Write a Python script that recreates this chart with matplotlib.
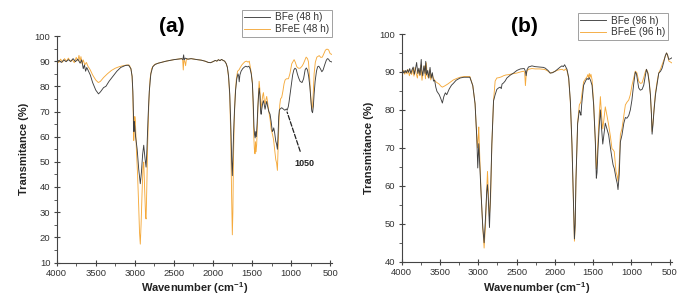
import matplotlib
matplotlib.use("Agg")
import matplotlib.pyplot as plt
from matplotlib.ticker import MultipleLocator

plt.rcParams['font.family'] = ['Liberation Sans', 'DejaVu Sans']
plt.rcParams['mathtext.fontset'] = 'custom'
plt.rcParams['mathtext.rm'] = 'Liberation Sans'
plt.rcParams['mathtext.bf'] = 'Liberation Sans:bold'
plt.rcParams['mathtext.it'] = 'Liberation Sans:italic'

# ---------------- Panel (a) data ----------------
a_bfe_wn = [4000, 3970, 3940, 3910, 3880, 3850, 3820, 3790, 3760, 3730, 3700, 3680, 3660, 3645, 3630, 3615, 3600,
            3570, 3540, 3500, 3465, 3440, 3400, 3370, 3330, 3280, 3230, 3180, 3120, 3080, 3050, 3035, 3025, 3018,
            3012, 3008, 3000, 2990, 2970, 2950, 2930, 2915, 2900, 2886, 2872, 2856, 2845, 2830, 2815, 2795, 2770,
            2740, 2700, 2650, 2600, 2550, 2500, 2450, 2400, 2385, 2375, 2368, 2355, 2320, 2280, 2240, 2200, 2150,
            2100, 2060, 2030, 2000, 1970, 1950, 1930, 1910, 1890, 1870, 1850, 1830, 1815, 1800, 1785, 1770, 1760,
            1752, 1745, 1735, 1725, 1710, 1695, 1680, 1670, 1664, 1655, 1640, 1620, 1600, 1580, 1560, 1540, 1525,
            1510, 1495, 1485, 1475, 1468, 1460, 1453, 1445, 1435, 1425, 1415, 1408, 1398, 1390, 1383, 1375, 1362,
            1354, 1345, 1333, 1320, 1312, 1300, 1285, 1269, 1255, 1240, 1230, 1222, 1210, 1196, 1185, 1175, 1165,
            1158, 1150, 1140, 1120, 1100, 1080, 1060, 1050, 1035, 1025, 1012, 995, 980, 965, 950, 935, 920, 905,
            885, 860, 840, 820, 805, 790, 775, 760, 745, 735, 725, 715, 705, 692, 675, 660, 645, 625, 606, 590,
            570, 550, 535, 520, 505, 490, 480]
a_bfe_t = [89.8, 90.3, 89.5, 90.5, 89.8, 90.6, 89.9, 91.0, 89.8, 90.8, 89.2, 90.5, 87.0, 88.5, 86.0, 87.5, 86.5,
           84.5, 81.5, 78.5, 77.0, 77.8, 79.5, 80.0, 82.0, 84.0, 86.0, 87.5, 88.3, 88.4, 87.0, 84.0, 78.0, 70.0,
           62.0, 66.0, 64.0, 60.0, 55.0, 47.0, 41.3, 46.0, 53.0, 56.6, 52.0, 47.9, 55.0, 68.0, 78.0, 85.0, 87.8,
           88.7, 89.2, 89.6, 90.0, 90.3, 90.6, 90.8, 91.0, 90.6, 92.5, 90.5, 91.2, 90.8, 91.0, 90.8, 90.6, 90.4,
           90.0, 89.5, 89.4, 89.8, 90.3, 90.0, 90.6, 90.2, 90.7, 90.3, 90.0, 89.0, 87.5, 84.0, 77.0, 63.0, 50.0,
           44.5, 52.0, 62.0, 70.0, 78.5, 83.0, 85.0, 84.0, 81.8, 84.5, 86.0, 87.0, 87.6, 88.0, 87.7, 88.0, 87.0,
           85.0, 81.0, 74.0, 64.0, 61.0, 59.5, 62.0, 60.0, 65.0, 72.0, 77.0, 79.3, 76.0, 70.0, 68.9, 71.0, 73.5,
           74.3, 73.0, 70.9, 73.0, 74.0, 72.0, 70.0, 68.9, 66.0, 62.0, 62.5, 63.5, 61.5, 58.2, 57.0, 55.0, 62.0,
           68.0, 70.5, 71.0, 71.5, 71.0, 70.5, 71.0, 70.5, 72.0, 74.0, 77.0, 81.0, 84.5, 86.5, 87.2, 86.8, 85.0,
           83.5, 82.0, 81.5, 83.0, 86.6, 87.3, 86.5, 84.0, 80.0, 74.0, 70.2, 69.5, 72.0, 77.0, 82.0, 86.0, 87.8,
           88.0, 87.0, 85.8, 86.5, 88.5, 90.3, 91.0, 90.8, 90.0, 89.8, 89.7]

a_bfee_wn = [4000, 3975, 3950, 3925, 3900, 3875, 3850, 3825, 3800, 3775, 3750, 3730, 3715, 3700, 3690, 3675, 3660,
             3640, 3620, 3600, 3570, 3540, 3500, 3467, 3440, 3400, 3350, 3300, 3250, 3200, 3150, 3100, 3070, 3050,
             3035, 3025, 3018, 3014, 3008, 3000, 2993, 2980, 2965, 2950, 2940, 2930, 2920, 2905, 2895, 2886, 2875,
             2862, 2856, 2848, 2835, 2820, 2805, 2785, 2760, 2740, 2700, 2650, 2600, 2550, 2500, 2450, 2400, 2388,
             2380, 2372, 2360, 2350, 2340, 2320, 2280, 2240, 2200, 2150, 2100, 2060, 2030, 2000, 1970, 1950, 1930,
             1910, 1890, 1870, 1850, 1830, 1815, 1800, 1785, 1772, 1762, 1752, 1745, 1738, 1728, 1715, 1700, 1685,
             1665, 1650, 1630, 1610, 1590, 1570, 1550, 1535, 1524, 1510, 1495, 1485, 1477, 1470, 1462, 1455, 1448,
             1440, 1430, 1420, 1409, 1400, 1390, 1384, 1375, 1362, 1354, 1345, 1333, 1320, 1312, 1300, 1285, 1269,
             1255, 1239, 1225, 1210, 1196, 1185, 1175, 1165, 1155, 1145, 1135, 1120, 1105, 1090, 1077, 1060, 1034,
             1015, 991, 961, 945, 927, 905, 884, 860, 842, 807, 790, 777, 760, 745, 735, 725, 715, 705, 690, 670,
             640, 620, 600, 580, 560, 540, 520, 500, 480]
a_bfee_t = [90.0, 89.5, 90.8, 89.6, 91.0, 90.0, 91.2, 89.8, 90.6, 89.4, 91.5, 90.2, 92.3, 90.0, 91.8, 89.0, 90.5,
            88.5, 89.5, 88.0, 86.5, 84.5, 82.5, 81.5, 82.0, 83.5, 85.0, 86.3, 87.2, 87.8, 88.2, 88.5, 88.4, 87.0,
            84.0, 76.0, 66.0, 58.5, 62.0, 68.0, 66.0, 55.0, 45.0, 32.0, 22.0, 17.3, 25.0, 40.0, 48.0, 49.9, 40.0,
            28.0, 27.3, 38.0, 58.0, 74.0, 83.0, 87.0, 88.3, 88.8, 89.2, 89.6, 90.0, 90.3, 90.6, 90.8, 91.0, 90.8,
            86.5, 90.5, 89.8, 88.2, 90.8, 90.8, 91.0, 90.8, 90.6, 90.4, 90.0, 89.5, 89.4, 89.8, 90.3, 90.0, 90.6,
            90.2, 90.7, 90.3, 90.0, 89.0, 87.5, 83.5, 76.0, 60.0, 38.0, 21.0, 30.0, 50.0, 66.0, 77.0, 83.0, 86.0,
            86.6, 87.5, 88.5, 89.2, 89.8, 90.0, 89.6, 90.0, 88.0, 85.5, 81.5, 72.0, 60.0, 55.0, 53.2, 58.0, 54.0,
            57.0, 66.0, 75.0, 82.0, 79.0, 73.0, 70.9, 73.5, 76.5, 77.5, 75.0, 72.9, 75.0, 76.0, 73.5, 70.0, 67.0,
            63.0, 61.0, 59.0, 55.0, 50.9, 49.5, 46.6, 56.0, 66.0, 72.5, 75.0, 75.6, 78.0, 81.0, 82.5, 83.0, 83.0,
            85.0, 89.0, 90.6, 89.5, 87.8, 87.2, 87.2, 88.0, 89.0, 91.6, 91.0, 89.7, 82.0, 74.0, 70.9, 72.0, 78.0,
            85.0, 89.5, 91.6, 92.2, 91.5, 91.6, 93.0, 94.4, 94.8, 94.5, 93.0, 92.7]

# ---------------- Panel (b) data ----------------
b_bfe_wn = [4000, 3985, 3970, 3955, 3940, 3925, 3910, 3895, 3880, 3865, 3850, 3835, 3820, 3805, 3790, 3775, 3760,
            3745, 3738, 3725, 3710, 3695, 3686, 3675, 3660, 3645, 3630, 3615, 3600, 3585, 3570, 3555, 3540, 3510,
            3490, 3469, 3450, 3430, 3412, 3380, 3350, 3325, 3290, 3238, 3190, 3150, 3110, 3072, 3042, 3020, 3007,
            2994, 2980, 2963, 2941, 2924, 2905, 2890, 2880, 2868, 2854, 2840, 2823, 2801, 2780, 2758, 2735, 2714,
            2700, 2690, 2671, 2650, 2627, 2580, 2540, 2496, 2450, 2400, 2385, 2376, 2365, 2345, 2300, 2257, 2200,
            2150, 2126, 2090, 2061, 2030, 1996, 1960, 1930, 1908, 1890, 1873, 1855, 1842, 1820, 1798, 1777, 1755,
            1745, 1735, 1725, 1703, 1681, 1665, 1660, 1650, 1625, 1600, 1581, 1565, 1551, 1535, 1515, 1494, 1472,
            1459, 1450, 1437, 1420, 1406, 1390, 1375, 1360, 1342, 1320, 1298, 1275, 1255, 1240, 1225, 1202, 1185,
            1176, 1160, 1145, 1124, 1100, 1080, 1060, 1036, 1015, 995, 970, 950, 935, 906, 885, 862, 840, 820, 805,
            785, 768, 753, 740, 731, 720, 705, 687, 665, 644, 620, 600, 580, 560, 543, 530, 513, 490, 475]
b_bfe_t = [90.0, 90.3, 89.7, 90.4, 89.8, 90.6, 89.9, 90.9, 89.6, 90.6, 91.3, 89.4, 90.8, 92.5, 89.6, 91.0, 89.2,
           93.3, 90.5, 89.0, 91.6, 89.6, 92.8, 89.2, 90.4, 88.4, 91.2, 88.4, 89.8, 87.6, 87.8, 86.0, 84.9, 84.0,
           83.0, 81.8, 83.5, 84.5, 84.0, 85.5, 86.5, 87.0, 87.8, 88.4, 88.6, 88.6, 88.6, 86.4, 81.6, 72.8, 64.7,
           71.1, 65.0, 57.7, 48.9, 45.0, 52.0, 58.5, 60.3, 56.0, 49.0, 58.0, 71.0, 82.4, 84.0, 85.4, 85.8, 86.0,
           85.6, 86.8, 87.1, 87.6, 88.4, 89.2, 89.7, 90.4, 90.8, 90.9, 90.2, 89.0, 90.5, 91.3, 91.6, 91.4, 91.3,
           91.2, 91.0, 90.4, 89.7, 89.8, 90.2, 90.8, 91.3, 91.6, 91.4, 91.9, 91.2, 90.7, 88.5, 82.3, 70.9, 53.3,
           46.0, 50.0, 61.5, 76.4, 79.9, 79.0, 78.6, 81.5, 86.5, 87.6, 88.3, 88.0, 88.5, 87.8, 86.5, 81.3, 71.6,
           62.0, 63.5, 69.8, 76.0, 80.0, 75.0, 71.0, 73.5, 76.5, 75.0, 73.4, 70.0, 67.3, 65.5, 64.6, 62.0, 60.5,
           59.0, 63.0, 71.6, 73.4, 76.5, 78.0, 77.8, 78.5, 80.0, 82.5, 87.0, 90.0, 89.5, 85.8, 85.2, 85.4, 86.5,
           89.0, 90.7, 89.5, 87.0, 84.0, 79.0, 73.6, 76.0, 80.0, 84.0, 87.0, 89.7, 90.2, 91.0, 92.5, 94.2, 95.0,
           94.5, 93.3, 93.5, 93.7]

b_bfee_wn = [4000, 3990, 3975, 3960, 3945, 3930, 3915, 3900, 3885, 3870, 3855, 3840, 3825, 3810, 3795, 3780, 3765,
             3750, 3735, 3720, 3705, 3690, 3680, 3665, 3650, 3635, 3620, 3605, 3590, 3575, 3560, 3540, 3510, 3490,
             3469, 3440, 3400, 3360, 3325, 3280, 3238, 3180, 3140, 3110, 3072, 3042, 3020, 3010, 3000, 2994, 2985,
             2963, 2941, 2924, 2905, 2890, 2880, 2868, 2856, 2840, 2823, 2801, 2780, 2758, 2730, 2700, 2671, 2640,
             2600, 2560, 2500, 2450, 2410, 2395, 2385, 2376, 2365, 2345, 2300, 2257, 2200, 2150, 2126, 2090, 2061,
             2030, 1996, 1960, 1930, 1908, 1880, 1860, 1842, 1820, 1798, 1777, 1755, 1745, 1735, 1725, 1703, 1681,
             1660, 1645, 1625, 1600, 1581, 1570, 1560, 1551, 1540, 1530, 1515, 1494, 1472, 1459, 1450, 1437, 1420,
             1406, 1390, 1375, 1360, 1342, 1320, 1298, 1275, 1255, 1240, 1225, 1202, 1185, 1176, 1160, 1145, 1124,
             1100, 1080, 1060, 1036, 1015, 993, 970, 950, 930, 906, 885, 862, 840, 820, 805, 785, 768, 753, 740,
             731, 720, 705, 687, 665, 644, 620, 600, 580, 560, 543, 530, 513, 490, 475]
b_bfee_t = [90.0, 89.7, 90.4, 89.4, 90.3, 89.5, 90.6, 89.0, 90.2, 89.3, 90.9, 88.9, 91.2, 89.5, 88.4, 90.8, 89.0,
            91.8, 87.8, 90.4, 91.6, 88.2, 92.4, 89.0, 88.4, 90.6, 87.9, 89.4, 88.5, 88.0, 87.5, 87.2, 86.8, 86.3,
            86.0, 86.3, 86.8, 87.4, 87.9, 88.3, 88.6, 88.8, 88.8, 88.8, 86.4, 81.6, 72.8, 70.0, 73.0, 75.5, 70.0,
            57.7, 48.9, 43.6, 50.0, 59.0, 63.8, 58.0, 52.0, 56.0, 71.0, 82.4, 87.6, 88.4, 88.5, 88.7, 89.0, 89.2,
            89.3, 89.5, 89.7, 90.0, 90.2, 90.0, 86.4, 88.8, 90.2, 90.7, 90.9, 90.8, 90.8, 90.7, 90.6, 90.2, 89.7,
            89.9, 90.2, 90.5, 90.6, 90.7, 90.4, 90.8, 90.3, 88.3, 82.0, 70.5, 53.0, 45.4, 49.5, 61.5, 76.6, 81.3,
            82.1, 84.5, 87.4, 88.2, 88.7, 89.3, 88.4, 89.6, 88.6, 89.4, 88.0, 81.8, 72.0, 64.5, 66.0, 72.0, 79.0,
            83.5, 78.5, 75.0, 77.5, 80.8, 78.5, 76.0, 73.0, 69.8, 69.5, 69.0, 63.7, 62.5, 61.2, 66.0, 73.5, 75.1,
            78.5, 81.3, 82.0, 82.6, 84.0, 86.5, 88.5, 90.2, 89.8, 87.6, 87.0, 87.1, 88.5, 90.0, 90.7, 89.8, 87.5,
            84.0, 79.0, 74.3, 76.5, 80.5, 84.5, 87.5, 89.7, 90.8, 91.9, 93.0, 94.0, 95.0, 94.6, 92.9, 92.6, 92.4]

BFE_COLOR = '#404040'
BFEE_COLOR = '#f5aa3c'

fig = plt.figure(figsize=(6.93, 3.08), dpi=100)
ax_a = fig.add_axes([56.7 / 693, 45.5 / 308, 275 / 693, 226.5 / 308])
ax_b = fig.add_axes([401.7 / 693, 46.3 / 308, 270 / 693, 227.7 / 308])


def style(ax, xlim, ylim, ystep):
    ax.set_xlim(*xlim)
    ax.set_ylim(*ylim)
    for s in ('top', 'right'):
        ax.spines[s].set_visible(False)
    for s in ('left', 'bottom'):
        ax.spines[s].set_color('#444444')
        ax.spines[s].set_linewidth(0.8)
    ax.xaxis.set_major_locator(MultipleLocator(500))
    ax.xaxis.set_minor_locator(MultipleLocator(250))
    ax.yaxis.set_major_locator(MultipleLocator(ystep))
    ax.yaxis.set_minor_locator(MultipleLocator(ystep / 2))
    ax.tick_params(which='major', direction='inout', length=5, width=0.8, color='#444444',
                   labelsize=6.8, labelcolor='#333333', pad=2)
    ax.tick_params(which='minor', direction='out', length=2, width=0.6, color='#444444')
    ax.set_xlabel('Wavenumber (cm$^{\\mathbf{-1}}$)', fontsize=8, fontweight='bold', color='#222222', labelpad=2)
    ax.set_ylabel('Transmitance (%)', fontsize=8, fontweight='bold', color='#222222', labelpad=4)


ax_a.plot(a_bfe_wn, a_bfe_t, color=BFE_COLOR, lw=0.65, label='BFe (48 h)', zorder=3)
ax_a.plot(a_bfee_wn, a_bfee_t, color=BFEE_COLOR, lw=0.65, label='BFeE (48 h)', zorder=2)
style(ax_a, (4000, 480), (10, 100), 10)

ax_b.plot(b_bfe_wn, b_bfe_t, color=BFE_COLOR, lw=0.65, label='BFe (96 h)', zorder=3)
ax_b.plot(b_bfee_wn, b_bfee_t, color=BFEE_COLOR, lw=0.65, label='BFeE (96 h)', zorder=2)
style(ax_b, (4000, 475), (40, 100), 10)

# annotation in panel (a)
ax_a.annotate('1050', xy=(1051, 69.8), xytext=(830, 49.2), fontsize=6.5, fontweight='bold',
              color='#222222', ha='center', va='center',
              arrowprops=dict(arrowstyle='-', linestyle='--', color='#222222', lw=0.9,
                              shrinkA=4, shrinkB=0))

# panel titles
fig.text(172 / 693, 1 - 27 / 308, '(a)', fontsize=15, fontweight='bold', ha='center', va='center')
fig.text(524 / 693, 1 - 27 / 308, '(b)', fontsize=15, fontweight='bold', ha='center', va='center')

leg_kw = dict(fontsize=7.2, frameon=True, fancybox=False, edgecolor='#888888', handlelength=2.6,
              handletextpad=0.5, borderpad=0.25, labelspacing=0.15, borderaxespad=0.0)
la = ax_a.legend(loc='upper right', bbox_to_anchor=(332 / 693, 1 - 10 / 308),
                 bbox_transform=fig.transFigure, **leg_kw)
lb = ax_b.legend(loc='upper right', bbox_to_anchor=(668 / 693, 1 - 13 / 308),
                 bbox_transform=fig.transFigure, **leg_kw)
for lg in (la, lb):
    lg.get_frame().set_linewidth(0.7)
    for t in lg.get_texts():
        t.set_color('#333333')

fig.savefig('out.png', dpi=100)
